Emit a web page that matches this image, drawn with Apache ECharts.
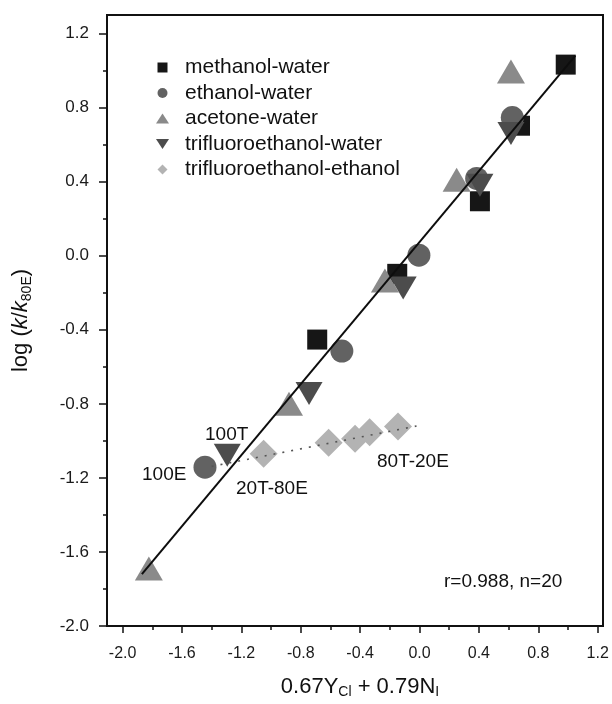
<!DOCTYPE html>
<html>
<head>
<meta charset="utf-8">
<script src="https://cdn.jsdelivr.net/npm/echarts@6/dist/echarts.min.js"></script>
<style>
html,body{margin:0;padding:0;background:#fff;}
#chart{width:612px;height:704px;}
</style>
</head>
<body>
<div id="chart"></div>
<script>
// ---- data (x = 0.67Y_Cl + 0.79N_I, y = log(k/k80E)) ----
var methanolWater = [[0.985, 1.032], [0.677, 0.702], [0.407, 0.294], [-0.150, -0.098], [-0.689, -0.453]];
var ethanolWater = [[0.625, 0.746], [0.385, 0.417], [-0.004, 0.003], [-0.523, -0.515], [-1.445, -1.142]];
var acetoneWater = [[0.616, 0.995], [0.250, 0.410], [-0.233, -0.134], [-0.879, -0.800], [-1.823, -1.690]];
var tfeWater = [[0.616, 0.660], [0.407, 0.380], [-0.110, -0.175], [-0.744, -0.744], [-1.295, -1.078]];
var tfeEthanol = [[-1.050, -1.070], [-0.612, -1.010], [-0.434, -0.988], [-0.336, -0.953], [-0.145, -0.923]];
var fitLine = [[-1.87, -1.72], [1.05, 1.08]];
var tfeEthanolFit = [[-1.40, -1.138], [-0.02, -0.92]];

var seriesNames = ['methanol-water', 'ethanol-water', 'acetone-water', 'trifluoroethanol-water', 'trifluoroethanol-ethanol'];
var xMajorTicks = [-2.0, -1.6, -1.2, -0.8, -0.4, 0.0, 0.4, 0.8, 1.2];
var xMinorTicks = [-1.8, -1.4, -1.0, -0.6, -0.2, 0.2, 0.6, 1.0];
var yMajorTicks = [-2.0, -1.6, -1.2, -0.8, -0.4, 0.0, 0.4, 0.8, 1.2];
var yMinorTicks = [-1.8, -1.4, -1.0, -0.6, -0.2, 0.2, 0.6, 1.0];
var annotations = ['100T', '100E', '20T-80E', '80T-20E', 'r=0.988, n=20'];

var FONT = '"Liberation Sans", Arial, Helvetica, sans-serif';
var chart = echarts.init(document.getElementById('chart'), null, {renderer: 'canvas'});

function fmt(v) { return (Math.abs(v) < 1e-9 ? 0 : v).toFixed(1); }

var ICON_SQUARE = 'path://M0,0L10,0L10,10L0,10Z';
var ICON_UP = 'path://M6.5,0L13,10L0,10Z';
var ICON_DOWN = 'path://M0,0L13,0L6.5,10Z';
var ICON_DIAMOND = 'path://M5,0L10,5L5,10L0,5Z';

var axisBase = {
  type: 'value',
  splitLine: {show: false}
};

var option = {
  backgroundColor: '#ffffff',
  animation: false,
  textStyle: {fontFamily: FONT},
  grid: {
    left: 107, top: 15, width: 496, height: 622,
    show: true, borderColor: '#111', borderWidth: 2, backgroundColor: 'transparent'
  },
  legend: {
    data: [
      {name: seriesNames[0], icon: ICON_SQUARE},
      {name: seriesNames[1], icon: 'circle'},
      {name: seriesNames[2], icon: ICON_UP},
      {name: seriesNames[3], icon: ICON_DOWN},
      {name: seriesNames[4], icon: ICON_DIAMOND}
    ],
    orient: 'vertical',
    left: 156, top: 57, padding: 0,
    itemWidth: 13, itemHeight: 10, itemGap: 4.5,
    textStyle: {fontFamily: FONT, fontSize: 21, lineHeight: 21, color: '#111', padding: [0, 0, 0, 11]},
    selectedMode: false
  },
  xAxis: [
    Object.assign({}, axisBase, {
      min: -2.105, max: 1.236,
      position: 'bottom',
      axisLine: {show: true, onZero: false, lineStyle: {color: '#111', width: 2}},
      axisTick: {show: true, customValues: xMajorTicks, length: 7, lineStyle: {color: '#111', width: 1.5}},
      axisLabel: {customValues: xMajorTicks, formatter: fmt, fontSize: 16, color: '#1a1a1a', margin: 20, fontFamily: FONT},
      name: '0.67Y{s|Cl} + 0.79N{s|I}',
      nameLocation: 'middle',
      nameGap: 49,
      nameTextStyle: {
        fontFamily: FONT, fontSize: 22, lineHeight: 24, color: '#111', padding: [0, 0, 0, 10],
        rich: {s: {fontFamily: FONT, fontSize: 14, lineHeight: 14, verticalAlign: 'bottom', color: '#111'}}
      }
    }),
    Object.assign({}, axisBase, {
      min: -2.105, max: 1.236,
      position: 'bottom',
      axisLine: {show: false, onZero: false},
      axisTick: {show: true, customValues: xMinorTicks, length: 4, lineStyle: {color: '#111', width: 1.5}},
      axisLabel: {show: false}
    })
  ],
  yAxis: [
    Object.assign({}, axisBase, {
      min: -2.0, max: 1.3,
      position: 'left',
      axisLine: {show: true, onZero: false, lineStyle: {color: '#111', width: 2}},
      axisTick: {show: true, customValues: yMajorTicks, length: 8, lineStyle: {color: '#111', width: 1.5}},
      axisLabel: {customValues: yMajorTicks, formatter: fmt, fontSize: 17, color: '#1a1a1a', margin: 18, fontFamily: FONT},
      name: 'log ({i|k}/{i|k}{s|80E})',
      nameLocation: 'middle',
      nameGap: 73,
      nameTextStyle: {
        fontFamily: FONT, fontSize: 22, lineHeight: 26, color: '#111',
        rich: {
          i: {fontFamily: FONT, fontSize: 22, lineHeight: 26, fontStyle: 'italic', color: '#111'},
          s: {fontFamily: FONT, fontSize: 14, lineHeight: 14, verticalAlign: 'bottom', color: '#111'}
        }
      }
    }),
    Object.assign({}, axisBase, {
      min: -2.0, max: 1.3,
      position: 'left',
      axisLine: {show: false, onZero: false},
      axisTick: {show: true, customValues: yMinorTicks, length: 4, lineStyle: {color: '#111', width: 1.5}},
      axisLabel: {show: false}
    })
  ],
  series: [
    {name: seriesNames[0], type: 'scatter', data: methanolWater, symbol: 'rect', symbolSize: 20,
     itemStyle: {color: '#161616', opacity: 1}, z: 3},
    {name: seriesNames[1], type: 'scatter', data: ethanolWater, symbol: 'circle', symbolSize: 23,
     itemStyle: {color: '#626262', opacity: 1}, z: 3},
    {name: seriesNames[2], type: 'scatter', data: acetoneWater, symbol: 'triangle', symbolSize: [28, 24],
     itemStyle: {color: '#8a8a8a', opacity: 1}, z: 3},
    {name: seriesNames[3], type: 'scatter', data: tfeWater, symbol: 'triangle', symbolRotate: 180, symbolSize: [27, 23],
     itemStyle: {color: '#4c4c4c', opacity: 1}, z: 3},
    {name: seriesNames[4], type: 'scatter', data: tfeEthanol, symbol: 'diamond', symbolSize: [28, 28],
     itemStyle: {color: '#b3b3b3', opacity: 1}, z: 3},
    {name: 'fit', type: 'line', data: fitLine, symbol: 'none', silent: true,
     lineStyle: {color: '#0d0d0d', width: 2}, z: 5},
    {name: 'fitTE', type: 'line', data: tfeEthanolFit, symbol: 'none', silent: true,
     lineStyle: {color: '#555', width: 1.6, type: [2, 7]}, z: 5}
  ],
  graphic: [
    {type: 'text', left: 205, top: 436 - 11, style: {text: annotations[0], font: '19px ' + FONT, fill: '#111'}},
    {type: 'text', left: 142, top: 476 - 11, style: {text: annotations[1], font: '19px ' + FONT, fill: '#111'}},
    {type: 'text', left: 236, top: 490 - 11, style: {text: annotations[2], font: '19px ' + FONT, fill: '#111'}},
    {type: 'text', left: 377, top: 463 - 11, style: {text: annotations[3], font: '19px ' + FONT, fill: '#111'}},
    {type: 'text', left: 444, top: 583 - 11, style: {text: annotations[4], font: '19px ' + FONT, fill: '#111'}}
  ]
};
chart.setOption(option);
</script>
</body>
</html>
